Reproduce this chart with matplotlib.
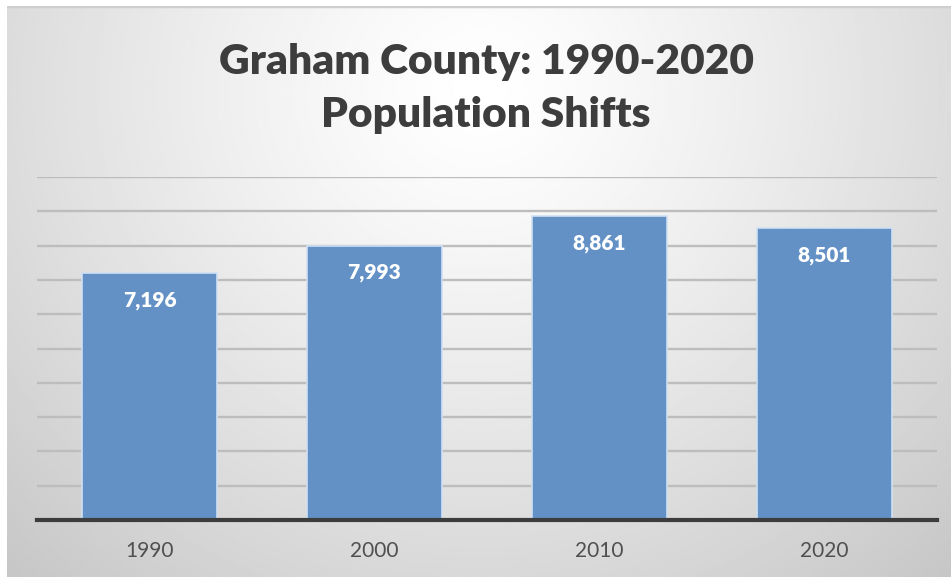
import numpy as np
import matplotlib.pyplot as plt

# census counts by year
years = ['1990', '2000', '2010', '2020']
population = [7196, 7993, 8861, 8501]
value_labels = ['7,196', '7,993', '8,861', '8,501']

W, H = 951, 577
fig = plt.figure(figsize=(W / 100, H / 100), dpi=100)
fig.patch.set_facecolor('white')

## soft radial backdrop, bright at the top middle and greying out to the edges
bg = fig.add_axes([7 / W, 0, (W - 7) / W, (H - 6) / H])
gx, gy = np.meshgrid(np.linspace(7, W, 400), np.linspace(6, H, 300))
d = np.sqrt(((gx - 480) / 1.0) ** 2 + ((gy - 90) / 0.95) ** 2) / 690.
shade = 1.0 - 0.22 * np.clip(d, 0, 1.2) ** 1.25
bg.imshow(shade, cmap='gray', vmin=0, vmax=1, aspect='auto',
          extent=[0, 1, 0, 1], origin='upper', interpolation='bilinear')
bg.axhline(1.0, color='#cfcfcf', lw=2.5)
bg.set_xlim(0, 1)
bg.set_ylim(0, 1)
bg.axis('off')

## bar chart area
left, right = 37 / W, 937 / W
bottom, top = (H - 520) / H, (H - 177) / H
ax = fig.add_axes([left, bottom, right - left, top - bottom])
ax.patch.set_alpha(0)

x = np.arange(len(years))
bars = ax.bar(x, population, width=0.6, color='#6391c6',
              edgecolor='#cfe0f3', linewidth=1.2, zorder=3)

ax.set_xlim(-0.5, len(years) - 0.5)
ax.set_ylim(0, 10000)
ax.set_yticks(np.arange(0, 10001, 1000))
ax.yaxis.grid(True, color='#bdbdbd', lw=1.7, zorder=0)
ax.tick_params(axis='y', left=False, labelleft=False)
ax.set_xticks(x)
ax.set_xticklabels(years, family='Lato', fontsize=15, color='#505050')
ax.tick_params(axis='x', length=0, pad=15)

for s in ['top', 'left', 'right']:
    ax.spines[s].set_visible(False)
ax.spines['bottom'].set_color('#3c3c3c')
ax.spines['bottom'].set_linewidth(3)
ax.spines['bottom'].set_zorder(4)

# value written just inside the top of each bar
for xi, v, lab in zip(x, population, value_labels):
    ax.annotate(lab, (xi, v), xytext=(0, -19.5), textcoords='offset points',
                ha='center', va='center', fontsize=15, fontweight='heavy',
                family='Lato', color='white', zorder=5)

fig.text(486 / W, 1 - 62 / H, 'Graham County: 1990-2020', ha='center', va='center',
         family='Lato', fontweight='heavy', fontsize=30.5, color='#3d3d3d')
fig.text(486 / W, 1 - 115 / H, 'Population Shifts', ha='center', va='center',
         family='Lato', fontweight='heavy', fontsize=30.5, color='#3d3d3d')

fig.savefig('out.png', dpi=100)
